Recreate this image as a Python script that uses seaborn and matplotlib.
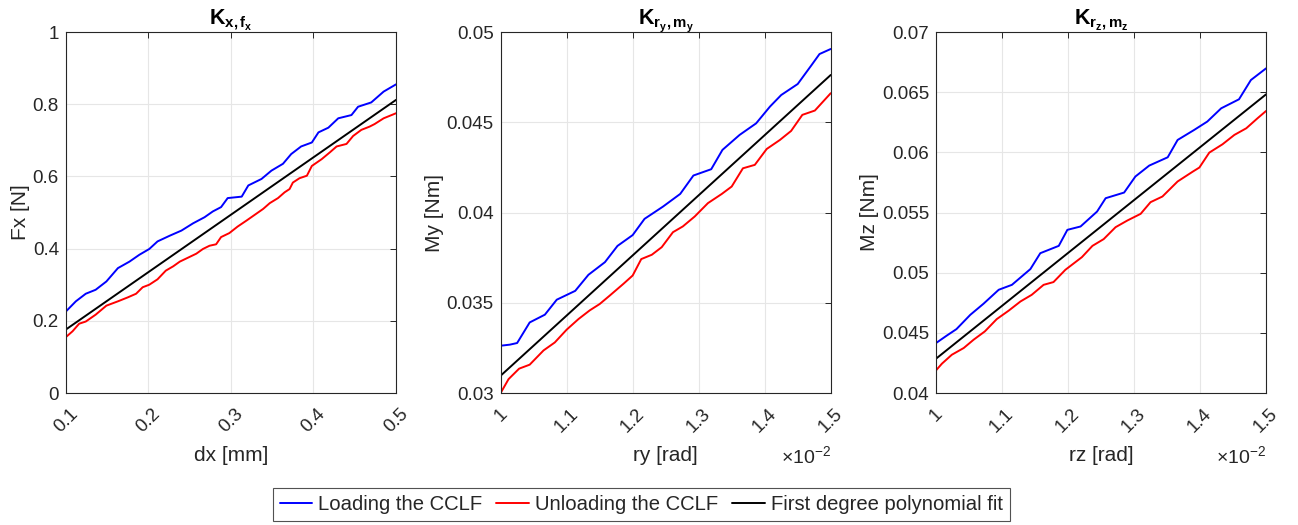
import numpy as np
import pandas as pd
import seaborn as sns
import matplotlib.pyplot as plt
from matplotlib.ticker import FuncFormatter, MultipleLocator
from matplotlib.lines import Line2D

# panel 1: Fx vs dx
dx_load = [0.100, 0.112, 0.124, 0.136, 0.149, 0.163, 0.177, 0.189, 0.201, 0.211, 0.226,
           0.240, 0.254, 0.268, 0.278, 0.288, 0.296, 0.313, 0.321, 0.337, 0.349, 0.363,
           0.373, 0.385, 0.398, 0.406, 0.418, 0.430, 0.446, 0.454, 0.470, 0.485, 0.500]
fx_load = [0.226, 0.254, 0.275, 0.286, 0.309, 0.346, 0.364, 0.383, 0.399, 0.420, 0.436,
           0.450, 0.470, 0.487, 0.503, 0.515, 0.540, 0.544, 0.575, 0.593, 0.616, 0.635,
           0.662, 0.683, 0.694, 0.722, 0.735, 0.761, 0.770, 0.793, 0.805, 0.835, 0.855]
dx_unload = [0.100, 0.108, 0.116, 0.124, 0.136, 0.149, 0.163, 0.175, 0.185, 0.193, 0.201,
             0.211, 0.221, 0.230, 0.238, 0.248, 0.258, 0.266, 0.274, 0.282, 0.288, 0.298,
             0.308, 0.319, 0.329, 0.339, 0.347, 0.357, 0.365, 0.371, 0.375, 0.383, 0.392,
             0.398, 0.410, 0.420, 0.428, 0.440, 0.448, 0.458, 0.468, 0.474, 0.485, 0.500]
fx_unload = [0.155, 0.171, 0.192, 0.198, 0.217, 0.242, 0.254, 0.265, 0.275, 0.293, 0.300,
             0.315, 0.339, 0.351, 0.364, 0.375, 0.386, 0.399, 0.408, 0.412, 0.432, 0.443,
             0.461, 0.478, 0.494, 0.510, 0.526, 0.540, 0.556, 0.565, 0.583, 0.595, 0.602,
             0.629, 0.648, 0.667, 0.683, 0.690, 0.712, 0.729, 0.738, 0.745, 0.761, 0.775]
dx_fit = [0.1, 0.5]
fx_fit = [0.176, 0.812]

# panel 2: My vs ry (x in 1e-2 rad)
ry_load = [1.000, 1.014, 1.025, 1.044, 1.067, 1.085, 1.113, 1.133, 1.158, 1.177, 1.200,
           1.218, 1.246, 1.272, 1.292, 1.319, 1.336, 1.362, 1.387, 1.408, 1.425, 1.450,
           1.471, 1.483, 1.500]
my_load = [0.03262, 0.03268, 0.03277, 0.03391, 0.03434, 0.03517, 0.03566, 0.03655, 0.03725,
           0.03815, 0.03875, 0.03965, 0.04033, 0.04103, 0.04205, 0.04240, 0.04347, 0.04430,
           0.04494, 0.04587, 0.04651, 0.04712, 0.04817, 0.04878, 0.04906]
ry_unload = [1.000, 1.012, 1.028, 1.044, 1.065, 1.082, 1.100, 1.118, 1.135, 1.150, 1.165,
             1.186, 1.200, 1.213, 1.229, 1.244, 1.261, 1.276, 1.294, 1.314, 1.335, 1.350,
             1.367, 1.385, 1.403, 1.423, 1.440, 1.457, 1.476, 1.500]
my_unload = [0.03000, 0.03077, 0.03135, 0.03157, 0.03236, 0.03280, 0.03351, 0.03410, 0.03458,
             0.03493, 0.03539, 0.03605, 0.03651, 0.03742, 0.03766, 0.03808, 0.03891, 0.03923,
             0.03978, 0.04052, 0.04103, 0.04144, 0.04245, 0.04264, 0.04352, 0.04402, 0.04452,
             0.04541, 0.04565, 0.04661]
ry_fit = [1.0, 1.5]
my_fit = [0.03096, 0.04762]

# panel 3: Mz vs rz (x in 1e-2 rad)
rz_load = [1.000, 1.016, 1.031, 1.052, 1.072, 1.095, 1.115, 1.143, 1.158, 1.186, 1.199,
           1.219, 1.244, 1.257, 1.285, 1.302, 1.323, 1.351, 1.366, 1.391, 1.411, 1.432,
           1.459, 1.477, 1.500]
mz_load = [0.04415, 0.04476, 0.04531, 0.04650, 0.04742, 0.04858, 0.04899, 0.05030, 0.05162,
           0.05223, 0.05356, 0.05384, 0.05508, 0.05619, 0.05666, 0.05799, 0.05890, 0.05959,
           0.06103, 0.06186, 0.06256, 0.06366, 0.06441, 0.06601, 0.06698]
rz_unload = [1.000, 1.009, 1.024, 1.042, 1.057, 1.074, 1.092, 1.110, 1.128, 1.145, 1.163,
             1.178, 1.196, 1.221, 1.237, 1.254, 1.272, 1.290, 1.310, 1.325, 1.343, 1.366,
             1.389, 1.399, 1.414, 1.434, 1.452, 1.470, 1.487, 1.500]
mz_unload = [0.04188, 0.04244, 0.04318, 0.04374, 0.04443, 0.04512, 0.04614, 0.04684, 0.04761,
             0.04816, 0.04899, 0.04922, 0.05024, 0.05129, 0.05223, 0.05279, 0.05378, 0.05434,
             0.05489, 0.05586, 0.05633, 0.05758, 0.05840, 0.05874, 0.05998, 0.06067, 0.06145,
             0.06200, 0.06283, 0.06344]
rz_fit = [1.0, 1.5]
mz_fit = [0.04285, 0.06482]

legend_labels = ["Loading the CCLF", "Unloading the CCLF", "First degree polynomial fit"]

sns.set_style("white")
plt.rcParams["font.family"] = ["Liberation Sans", "DejaVu Sans"]
plt.rcParams["mathtext.fontset"] = "custom"
plt.rcParams["mathtext.rm"] = "Liberation Sans"
plt.rcParams["mathtext.bf"] = "Liberation Sans:bold"
plt.rcParams["mathtext.it"] = "Liberation Sans:italic"

TXT = "#262626"
fig = plt.figure(figsize=(12.98, 5.25), dpi=100)

panels = [
    dict(left=0.0508, xl=(dx_load, dx_unload, dx_fit), yl=(fx_load, fx_unload, fx_fit),
         xlim=(0.1, 0.5), ylim=(0, 1), xstep=0.1, ystep=0.2, scale=1,
         title=r"$\mathbf{K_{x,f_x}}$", xlabel="dx [mm]", ylabel="Fx [N]"),
    dict(left=0.3857, xl=(ry_load, ry_unload, ry_fit), yl=(my_load, my_unload, my_fit),
         xlim=(1.0, 1.5), ylim=(0.03, 0.05), xstep=0.1, ystep=0.005, scale=1e-2,
         title=r"$\mathbf{K_{r_y,m_y}}$", xlabel="ry [rad]", ylabel="My [Nm]"),
    dict(left=0.7211, xl=(rz_load, rz_unload, rz_fit), yl=(mz_load, mz_unload, mz_fit),
         xlim=(1.0, 1.5), ylim=(0.04, 0.07), xstep=0.1, ystep=0.005, scale=1e-2,
         title=r"$\mathbf{K_{r_z,m_z}}$", xlabel="rz [rad]", ylabel="Mz [Nm]"),
]

colors = ["#0000ff", "#ff0000", "#000000"]

for p in panels:
    ax = fig.add_axes([p["left"], 0.2514, 0.2543, 0.6876])
    s = p["scale"]
    for xs, ys, c in zip(p["xl"], p["yl"], colors):
        df = pd.DataFrame({"x": np.array(xs) * s, "y": ys})
        sns.lineplot(data=df, x="x", y="y", ax=ax, color=c, linewidth=1.4,
                     estimator=None, sort=False)
    ax.set_xlim(p["xlim"][0] * s, p["xlim"][1] * s)
    ax.set_ylim(*p["ylim"])
    ax.xaxis.set_major_locator(MultipleLocator(p["xstep"] * s))
    ax.yaxis.set_major_locator(MultipleLocator(p["ystep"]))
    ax.xaxis.set_major_formatter(FuncFormatter(lambda v, _, s=s: f"{round(v / s, 6):g}"))
    ax.yaxis.set_major_formatter(FuncFormatter(lambda v, _: f"{round(v, 6):g}"))
    ax.grid(True, color="#e6e6e6", linewidth=0.8)
    ax.tick_params(direction="in", length=4, width=0.7, top=True, right=True,
                   labelsize=13.5, colors=TXT, pad=5)
    ax.tick_params(axis="x", pad=9)
    for lab in ax.get_xticklabels():
        lab.set_rotation(45)
    for sp in ax.spines.values():
        sp.set_color(TXT)
        sp.set_linewidth(0.8)
    ax.set_xlabel(p["xlabel"], fontsize=15, color=TXT, labelpad=7)
    ax.set_ylabel(p["ylabel"], fontsize=15, color=TXT, labelpad=2)
    ax.set_title(p["title"], fontsize=15.5, color="black", pad=6)
    if s != 1:
        ax.text(1.0, -0.145, r"$\times10^{-2}$", transform=ax.transAxes,
                ha="right", va="top", fontsize=14, color=TXT)

handles = [Line2D([], [], color=c, linewidth=1.4) for c in colors]
leg = fig.legend(handles, legend_labels, loc="center", bbox_to_anchor=(0.494, 0.039),
                 ncol=3, frameon=True, fancybox=False, handlelength=1.6,
                 handletextpad=0.3, columnspacing=0.7, borderpad=0.35,
                 prop={"family": ["Liberation Sans"], "size": 14.6})
leg.get_frame().set_edgecolor(TXT)
leg.get_frame().set_linewidth(0.8)

fig.savefig("out.png", dpi=100)
